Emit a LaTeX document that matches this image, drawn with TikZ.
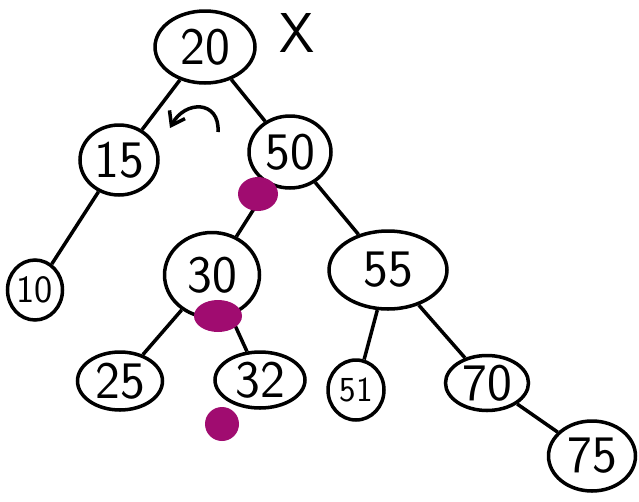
\documentclass[tikz,border=0pt]{standalone}
\usepackage{xcolor}
\usepackage{tikz}
\usetikzlibrary{positioning, calc, shapes.geometric, arrows.meta}

\definecolor{blob}{RGB}{160,12,112}

\begin{document}
\begin{tikzpicture}[x=0.02cm, y=-0.02cm,
        key/.style={ellipse, draw, line width=2pt, inner sep=0pt,
            font=\sffamily\fontsize{30}{32}\selectfont},
        edge/.style={line width=2pt},
        nullmark/.style={fill=blob, draw=none}]
        % fix the frame
        \useasboundingbox (0,0) rectangle (639,501);

        % the keys
        \node[key, minimum width=2.00cm, minimum height=1.44cm] (n20) at (205,47) {20};
        \node[key, minimum width=1.56cm, minimum height=1.40cm] (n15) at (119,160) {15};
        \node[key, minimum width=1.64cm, minimum height=1.44cm] (n50) at (290,152) {50};
        \node[key, minimum width=1.10cm, minimum height=1.20cm, font=\sffamily\fontsize{22}{24}\selectfont] (n10) at (35,290) {10};
        \node[key, minimum width=1.90cm, minimum height=1.70cm] (n30) at (212,275) {30};
        \node[key, minimum width=2.36cm, minimum height=1.56cm] (n55) at (388,270) {55};
        \node[key, minimum width=1.70cm, minimum height=1.16cm] (n25) at (120,381) {25};
        \node[key, minimum width=1.80cm, minimum height=1.12cm] (n32) at (260,380) {32};
        \node[key, minimum width=1.12cm, minimum height=1.20cm, font=\sffamily\fontsize{20}{22}\selectfont] (n51) at (356,390) {51};
        \node[key, minimum width=1.66cm, minimum height=1.10cm] (n70) at (487,383) {70};
        \node[key, minimum width=1.74cm, minimum height=1.40cm] (n75) at (592,456) {75};

        \node[font=\sffamily\fontsize{32}{34}\selectfont] (del) at (297,33) {X};

        % the links
        \draw[edge] (n20) -- (n15);
        \draw[edge] (n20) -- (n50);
        \draw[edge] (n15) -- (n10);
        \draw[edge] (n50) -- (n30);
        \draw[edge] (n50) -- (n55);
        \draw[edge] (n30) -- (n25);
        \draw[edge] (n30) -- (n32);
        \draw[edge] (n55) -- (n51);
        \draw[edge] (n55) -- (n70);
        \draw[edge] (n70) -- (n75);

        % rotation hint
        \coordinate (r1) at (218,132);
        \coordinate (r2) at (170,128);
        \draw[edge, -{Straight Barb[length=7pt, width=10pt]}] (r1) .. controls (220,100) and (185,100) .. (r2);

        % null links
        \fill[nullmark] (258,194) ellipse (20 and 17);
        \fill[nullmark] (218,316) ellipse (24 and 16);
        \fill[nullmark] (222,424) ellipse (17 and 17);
    \end{tikzpicture}
\end{document}
